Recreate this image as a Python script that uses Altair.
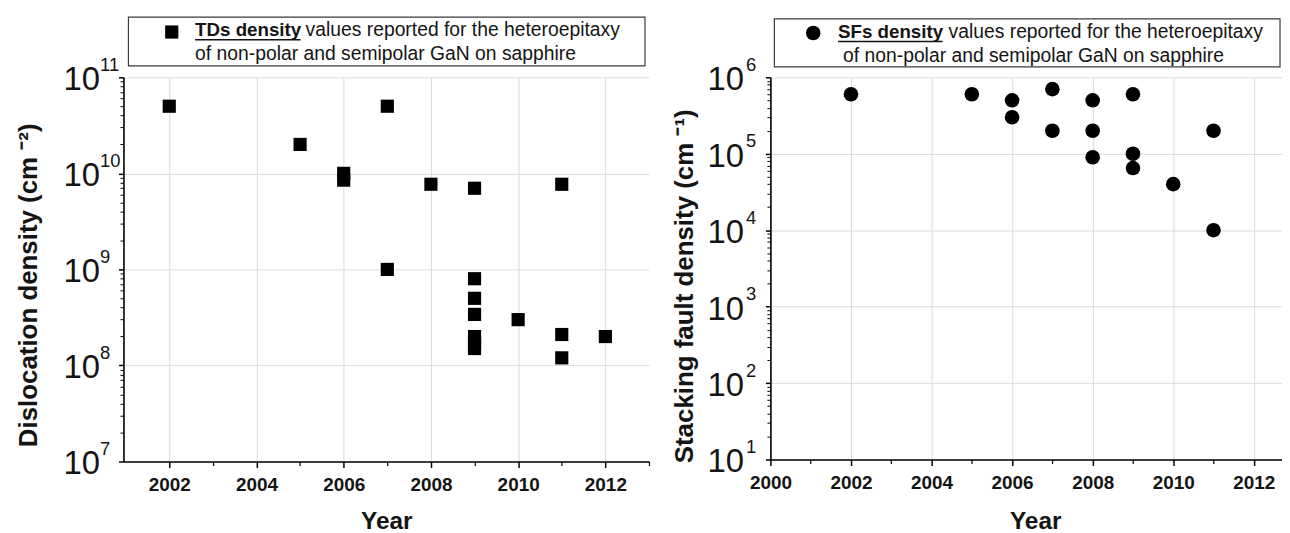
import altair as alt
import pandas as pd

FONT = "Liberation Sans"
INK = "#141414"
GRID = "#dcdcdc"
MINOR_TICK_COLOR = "black"

# ---- data: threading dislocation (TD) densities, cm^-2 ----
TD_YEARS = [2002, 2005, 2006, 2006, 2007, 2007, 2008, 2009, 2009, 2009, 2009,
            2009, 2009, 2009, 2010, 2011, 2011, 2011, 2012]
TD_VALUES = [5e10, 2e10, 1e10, 8.5e9, 5e10, 1e9, 7.7e9, 7e9, 8e8, 5e8, 3.4e8,
             2e8, 1.7e8, 1.5e8, 3e8, 7.7e9, 2.1e8, 1.2e8, 2e8]

# ---- data: stacking fault (SF) densities, cm^-1 ----
SF_YEARS = [2002, 2005, 2006, 2006, 2007, 2007, 2008, 2008, 2008, 2009, 2009,
            2009, 2010, 2011, 2011]
SF_VALUES = [6e5, 6e5, 5e5, 3e5, 7e5, 2e5, 5e5, 2e5, 9e4, 6e5, 1e5,
             6.5e4, 4e4, 2e5, 1e4]

# ---- axis ticks / labels ----
LEFT_X_MAJOR = [2002, 2004, 2006, 2008, 2010, 2012]
LEFT_X_MINOR = [2003, 2005, 2007, 2009, 2011, 2013]
RIGHT_X_MAJOR = [2000, 2002, 2004, 2006, 2008, 2010, 2012]
RIGHT_X_MINOR = [2001, 2003, 2005, 2007, 2009, 2011]

Y_LABEL_BASE = "10"
LEFT_Y_TICKS = [10**7, 10**8, 10**9, 10**10, 10**11]
LEFT_Y_EXPONENTS = ["7", "8", "9", "10", "11"]
RIGHT_Y_TICKS = [10**1, 10**2, 10**3, 10**4, 10**5, 10**6]
RIGHT_Y_EXPONENTS = ["1", "2", "3", "4", "5", "6"]
LEFT_Y_MINOR = [k * 10**d for d in range(7, 11) for k in range(2, 10)]
RIGHT_Y_MINOR = [k * 10**d for d in range(1, 6) for k in range(2, 10)]

LEFT_TITLE = "Dislocation density (cm ⁻²)"
RIGHT_TITLE = "Stacking fault density (cm ⁻¹)"
X_TITLE = "Year"
LEFT_LEG_BOLD = "TDs density"
RIGHT_LEG_BOLD = "SFs density"
LEG_REST = "values reported for the heteroepitaxy"
LEG_LINE2 = "of non-polar and semipolar GaN on sapphire"


def exp_expr(ticks, labels):
    lab = ",".join(f"'{l}'" for l in labels)
    vals = ",".join(str(int(v)) for v in ticks)
    return f"[{lab}][indexof([{vals}], datum.value)]"


def one(text=""):
    return pd.DataFrame({"t": [text]})


def txt(text, x, y, size, bold=False):
    return alt.Chart(one(text)).mark_text(
        align="left", baseline="alphabetic", font=FONT, fontSize=size,
        fontWeight="bold" if bold else "normal", color=INK
    ).encode(x=alt.value(x), y=alt.value(y), text="t:N")


def panel(years, values, xdom, ydom, xmaj, xmin, yt, yexp, ymin, ytitle,
          width, height, shape, msize, ytx, yty, xtx, xty, basepad, exppad, leg):
    df = pd.DataFrame({"year": years, "value": values})
    xs = alt.Scale(domain=xdom, nice=False, zero=False)
    ys = alt.Scale(type="log", domain=ydom, nice=False)
    pts = alt.Chart(df).mark_point(
        shape=shape, filled=True, size=msize, color="black", opacity=1
    ).encode(
        x=alt.X("year:Q", scale=xs, axis=alt.Axis(
            orient="bottom", values=xmaj, format="d", labelFlush=False,
            grid=True, gridColor=GRID, gridWidth=1,
            domainColor="black", domainWidth=1.6,
            tickColor="black", tickWidth=1.5, tickSize=6,
            labelFont=FONT, labelFontSize=19, labelFontWeight="bold",
            labelColor=INK, labelPadding=8,
            title=X_TITLE, titleFont=FONT, titleFontSize=24.5,
            titleFontWeight="bold", titleColor=INK,
            titleX=xtx, titleY=xty, titleBaseline="alphabetic")),
        y=alt.Y("value:Q", scale=ys, axis=alt.Axis(
            orient="left", values=yt, labelExpr=f"'{Y_LABEL_BASE}'",
            grid=True, gridColor=GRID, gridWidth=1,
            domainColor="black", domainWidth=1.6,
            tickColor="black", tickWidth=1.5, tickSize=5,
            labelFont=FONT, labelFontSize=33, labelFontWeight="normal",
            labelColor=INK, labelPadding=basepad, labelOverlap=False,
            labelBaseline="alphabetic", labelOffset=12.5,
            title=ytitle, titleFont=FONT, titleFontSize=26,
            titleFontWeight="bold", titleColor=INK, titleAngle=270,
            titleX=ytx, titleY=yty, titleBaseline="alphabetic")),
    )
    minor = alt.Chart(df).mark_point(opacity=0).encode(
        x=alt.X("year:Q", scale=xs, axis=alt.Axis(
            orient="bottom", values=xmin, labels=False, domain=False,
            grid=False, tickColor=MINOR_TICK_COLOR, tickWidth=1.2, tickSize=4,
            title=None)),
        y=alt.Y("value:Q", scale=ys, axis=alt.Axis(
            orient="left", values=ymin, labels=False, domain=False,
            grid=False, tickColor=MINOR_TICK_COLOR, tickWidth=1, tickSize=3.5,
            title=None)),
    )
    expo = alt.Chart(df).mark_point(opacity=0).encode(
        y=alt.Y("value:Q", scale=ys, axis=alt.Axis(
            orient="left", values=yt, labelExpr=exp_expr(yt, yexp),
            ticks=False, tickSize=0, domain=False, grid=False,
            labelFont=FONT, labelFontSize=18.5, labelColor=INK,
            labelAlign="left", labelBaseline="alphabetic", labelOffset=-7,
            labelPadding=exppad, labelOverlap=False, title=None)),
    )
    (bx1, bx2, by1, by2, mx, my, bold, tx, ty1, bw, rx, l2x, ty2) = leg
    box = alt.Chart(one()).mark_rect(
        fill="white", stroke="#3a3a3a", strokeWidth=1.2
    ).encode(x=alt.value(bx1), x2=alt.value(bx2), y=alt.value(by1), y2=alt.value(by2))
    marker = alt.Chart(one()).mark_point(
        shape=shape, filled=True, size=msize, color="black", opacity=1
    ).encode(x=alt.value(mx), y=alt.value(my))
    underline = alt.Chart(one()).mark_rule(color=INK, strokeWidth=1.5).encode(
        x=alt.value(tx), x2=alt.value(tx + bw), y=alt.value(ty1 + 3.5))
    layers = alt.layer(
        pts, minor, expo, box, marker,
        txt(bold, tx, ty1, 18.8, bold=True), underline,
        txt(LEG_REST, rx, ty1, 19.4), txt(LEG_LINE2, l2x, ty2, 19.4),
    ).resolve_axis(x="independent", y="independent").properties(
        width=width, height=height)
    return layers


left = panel(
    TD_YEARS, TD_VALUES, [2000.95, 2013], [1e7, 1e11], LEFT_X_MAJOR,
    LEFT_X_MINOR, LEFT_Y_TICKS, LEFT_Y_EXPONENTS, LEFT_Y_MINOR, LEFT_TITLE,
    528, 386, "square", 175, -87.7, 208.5, 264, 67,
    19, 24,
    (5, 524, -60.5, -11.5, 48.5, -45.5, LEFT_LEG_BOLD, 72, -41.2, 106, 183, 72, -17.2),
)
right = panel(
    SF_YEARS, SF_VALUES, [2000, 2012.7], [1e1, 1e6], RIGHT_X_MAJOR,
    RIGHT_X_MINOR, RIGHT_Y_TICKS, RIGHT_Y_EXPONENTS, RIGHT_Y_MINOR, RIGHT_TITLE,
    514, 384, "circle", 215, -78.2, 209.5, 266, 69.2,
    22, 25,
    (4, 512, -58.8, -10.5, 43, -44.5, RIGHT_LEG_BOLD, 68, -39.5, 105, 179, 73, -15.5),
)

chart = alt.hconcat(left, right, spacing=21).properties(
    padding={"left": 7, "top": 6.4, "right": 0, "bottom": 0},
    background="white",
).configure_view(strokeWidth=0)

chart.save("out.html", embed_options={"renderer": "svg", "actions": False})
